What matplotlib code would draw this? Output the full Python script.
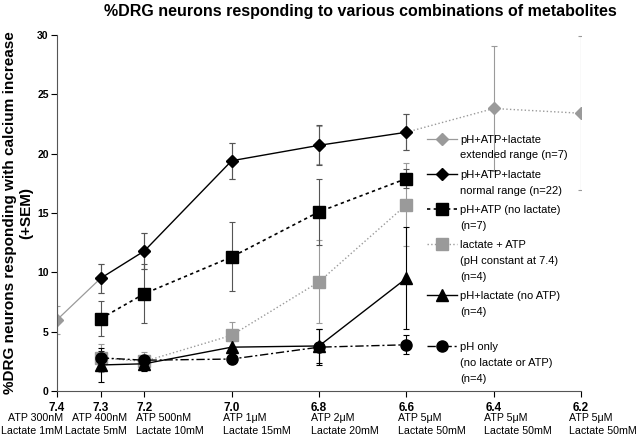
import matplotlib
matplotlib.use("Agg")
import matplotlib.pyplot as plt
from matplotlib.transforms import offset_copy

plt.rcParams["font.family"] = ["Liberation Sans", "DejaVu Sans"]

# ---------------------------------------------------------------------------
# Data
# ---------------------------------------------------------------------------
ph_ext = [7.4, 7.3, 7.2, 7.0, 6.8, 6.6, 6.4, 6.2]
ext_mean = [6.0, 9.5, 11.8, 19.4, 20.7, 21.8, 23.8, 23.4]
ext_sem = [1.2, 1.2, 1.5, 1.5, 1.6, 1.5, 5.3, 6.5]

ph = [7.3, 7.2, 7.0, 6.8, 6.6]
normal_mean = [9.5, 11.8, 19.4, 20.7, 21.8]
normal_sem = [1.2, 1.5, 1.5, 1.7, 1.5]

ph_atp_mean = [6.1, 8.2, 11.3, 15.1, 17.9]
ph_atp_sem = [1.5, 2.5, 2.9, 2.8, 0.8]

lac_atp_mean = [2.8, 2.5, 4.7, 9.2, 15.7]
lac_atp_sem = [1.2, 0.8, 1.1, 3.5, 3.5]

ph_lac_mean = [2.2, 2.3, 3.7, 3.8, 9.5]
ph_lac_sem = [1.4, 0.6, 0.5, 1.4, 4.3]

ph_only_mean = [2.8, 2.6, 2.7, 3.7, 3.9]
ph_only_sem = [0.6, 0.4, 0.4, 1.5, 0.8]

tick_ph = ["7.4", "7.3", "7.2", "7.0", "6.8", "6.6", "6.4", "6.2"]
tick_atp = ["ATP 300nM", "ATP 400nM", "ATP 500nM", "ATP 1\u03bcM",
            "ATP 2\u03bcM", "ATP 5\u03bcM", "ATP 5\u03bcM", "ATP 5\u03bcM"]
tick_lac = ["Lactate 1mM", "Lactate 5mM", "Lactate 10mM", "Lactate 15mM",
            "Lactate 20mM", "Lactate 50mM", "Lactate 50mM", "Lactate 50mM"]

# ---------------------------------------------------------------------------
# Plot
# ---------------------------------------------------------------------------
GREY = "#9a9a9a"
ERR = "#555555"

fig = plt.figure(figsize=(6.4, 4.36), dpi=100)
ax = fig.add_axes([0.089, 0.103, 0.819, 0.817])

eb_kw = dict(fmt="none", elinewidth=0.8, capsize=2.5, capthick=0.8)

# extended range (grey diamonds)
ax.errorbar(ph_ext, ext_mean, yerr=ext_sem, ecolor=GREY, **eb_kw)
ax.plot(ph_ext[:2], ext_mean[:2], color=GREY, lw=0.9)
ax.plot(ph_ext[5:], ext_mean[5:], color=GREY, lw=1.0, ls=":")
ax.plot(ph_ext, ext_mean, ls="none", marker="D", ms=6, color=GREY)
h_ext, = ax.plot([], [], color=GREY, lw=0.9, marker="D", ms=6)

ax.errorbar(ph, lac_atp_mean, yerr=lac_atp_sem, ecolor=GREY, **eb_kw)
ax.errorbar(ph, normal_mean, yerr=normal_sem, ecolor=ERR, **eb_kw)
ax.errorbar(ph, ph_atp_mean, yerr=ph_atp_sem, ecolor=ERR, **eb_kw)
ax.errorbar(ph, ph_lac_mean, yerr=ph_lac_sem, ecolor="black", **eb_kw)
ax.errorbar(ph, ph_only_mean, yerr=ph_only_sem, ecolor="black", **eb_kw)

h_norm, = ax.plot(ph, normal_mean, color="black", lw=1.0, marker="D", ms=6)
h_atp, = ax.plot(ph, ph_atp_mean, color="black", lw=1.2, ls=(0, (2, 2)),
                 marker="s", ms=8)
h_lac, = ax.plot(ph, lac_atp_mean, color=GREY, lw=1.0, ls=":",
                 marker="s", ms=9)
h_phl, = ax.plot(ph, ph_lac_mean, color="black", lw=1.0, marker="^", ms=8)
h_only, = ax.plot(ph, ph_only_mean, color="black", lw=1.0,
                  ls=(0, (6, 2, 1.5, 2)), marker="o", ms=8)

leg = ax.legend([h_ext, h_norm, h_atp, h_lac, h_phl, h_only],
                ["pH+ATP+lactate\nextended range (n=7)",
                 "pH+ATP+lactate\nnormal range (n=22)",
                 "pH+ATP (no lactate)\n(n=7)",
                 "lactate + ATP\n(pH constant at 7.4)\n(n=4)",
                 "pH+lactate (no ATP)\n(n=4)\n",
                 "pH only\n(no lactate or ATP)\n(n=4)"],
                loc="upper left", bbox_to_anchor=(0.706, 0.72),
                frameon=False, fontsize=8, handlelength=2.7,
                handletextpad=0.3, labelspacing=0.85, borderaxespad=0,
                borderpad=0)
for t in leg.get_texts():
    t.set_linespacing(1.72)
# marker next to the first line of each label, as in the original
for col in leg._legend_handle_box.get_children():
    for item in col.get_children():
        item.align = "top"

# axes styling
ax.set_xlim(7.4, 6.2)
ax.set_ylim(0, 30)
ax.set_yticks(range(0, 31, 5))
ax.set_yticklabels([str(v) for v in range(0, 31, 5)], fontsize=7.5,
                   fontweight="bold")
for s in ["top", "right"]:
    ax.spines[s].set_visible(False)
ax.spines["left"].set_color("#555555")
ax.spines["bottom"].set_color("#555555")
ax.tick_params(axis="y", length=4, width=0.8, pad=2)
ax.tick_params(axis="x", length=4, width=0.8, pad=4)

ax.set_xticks(ph_ext)
ax.set_xticklabels(tick_ph, fontsize=8.5, fontweight="bold")

# ATP / lactate rows under each pH tick
label_dx = [6, 26, -8, -9, -8, -8, -10, -12]
label_ha = ["right", "right", "left", "left", "left", "left", "left", "left"]
for x, atp, lac, dx, ha in zip(ph_ext, tick_atp, tick_lac, label_dx, label_ha):
    tr = offset_copy(ax.get_xaxis_transform(), fig=fig, x=dx, y=-27,
                     units="dots")
    ax.text(x, 0, atp, transform=tr, ha=ha, va="center", fontsize=7.7)
    tr2 = offset_copy(ax.get_xaxis_transform(), fig=fig, x=dx, y=-40,
                      units="dots")
    ax.text(x, 0, lac, transform=tr2, ha=ha, va="center", fontsize=7.7)

ax.set_ylabel("%DRG neurons responding with calcium increase\n(+SEM)",
              fontsize=11, fontweight="bold", labelpad=3)
fig.text(0.5625, 0.973, "%DRG neurons responding to various combinations of metabolites",
         ha="center", va="center", fontsize=11.5, fontweight="bold")

fig.savefig("out.png", dpi=100)
